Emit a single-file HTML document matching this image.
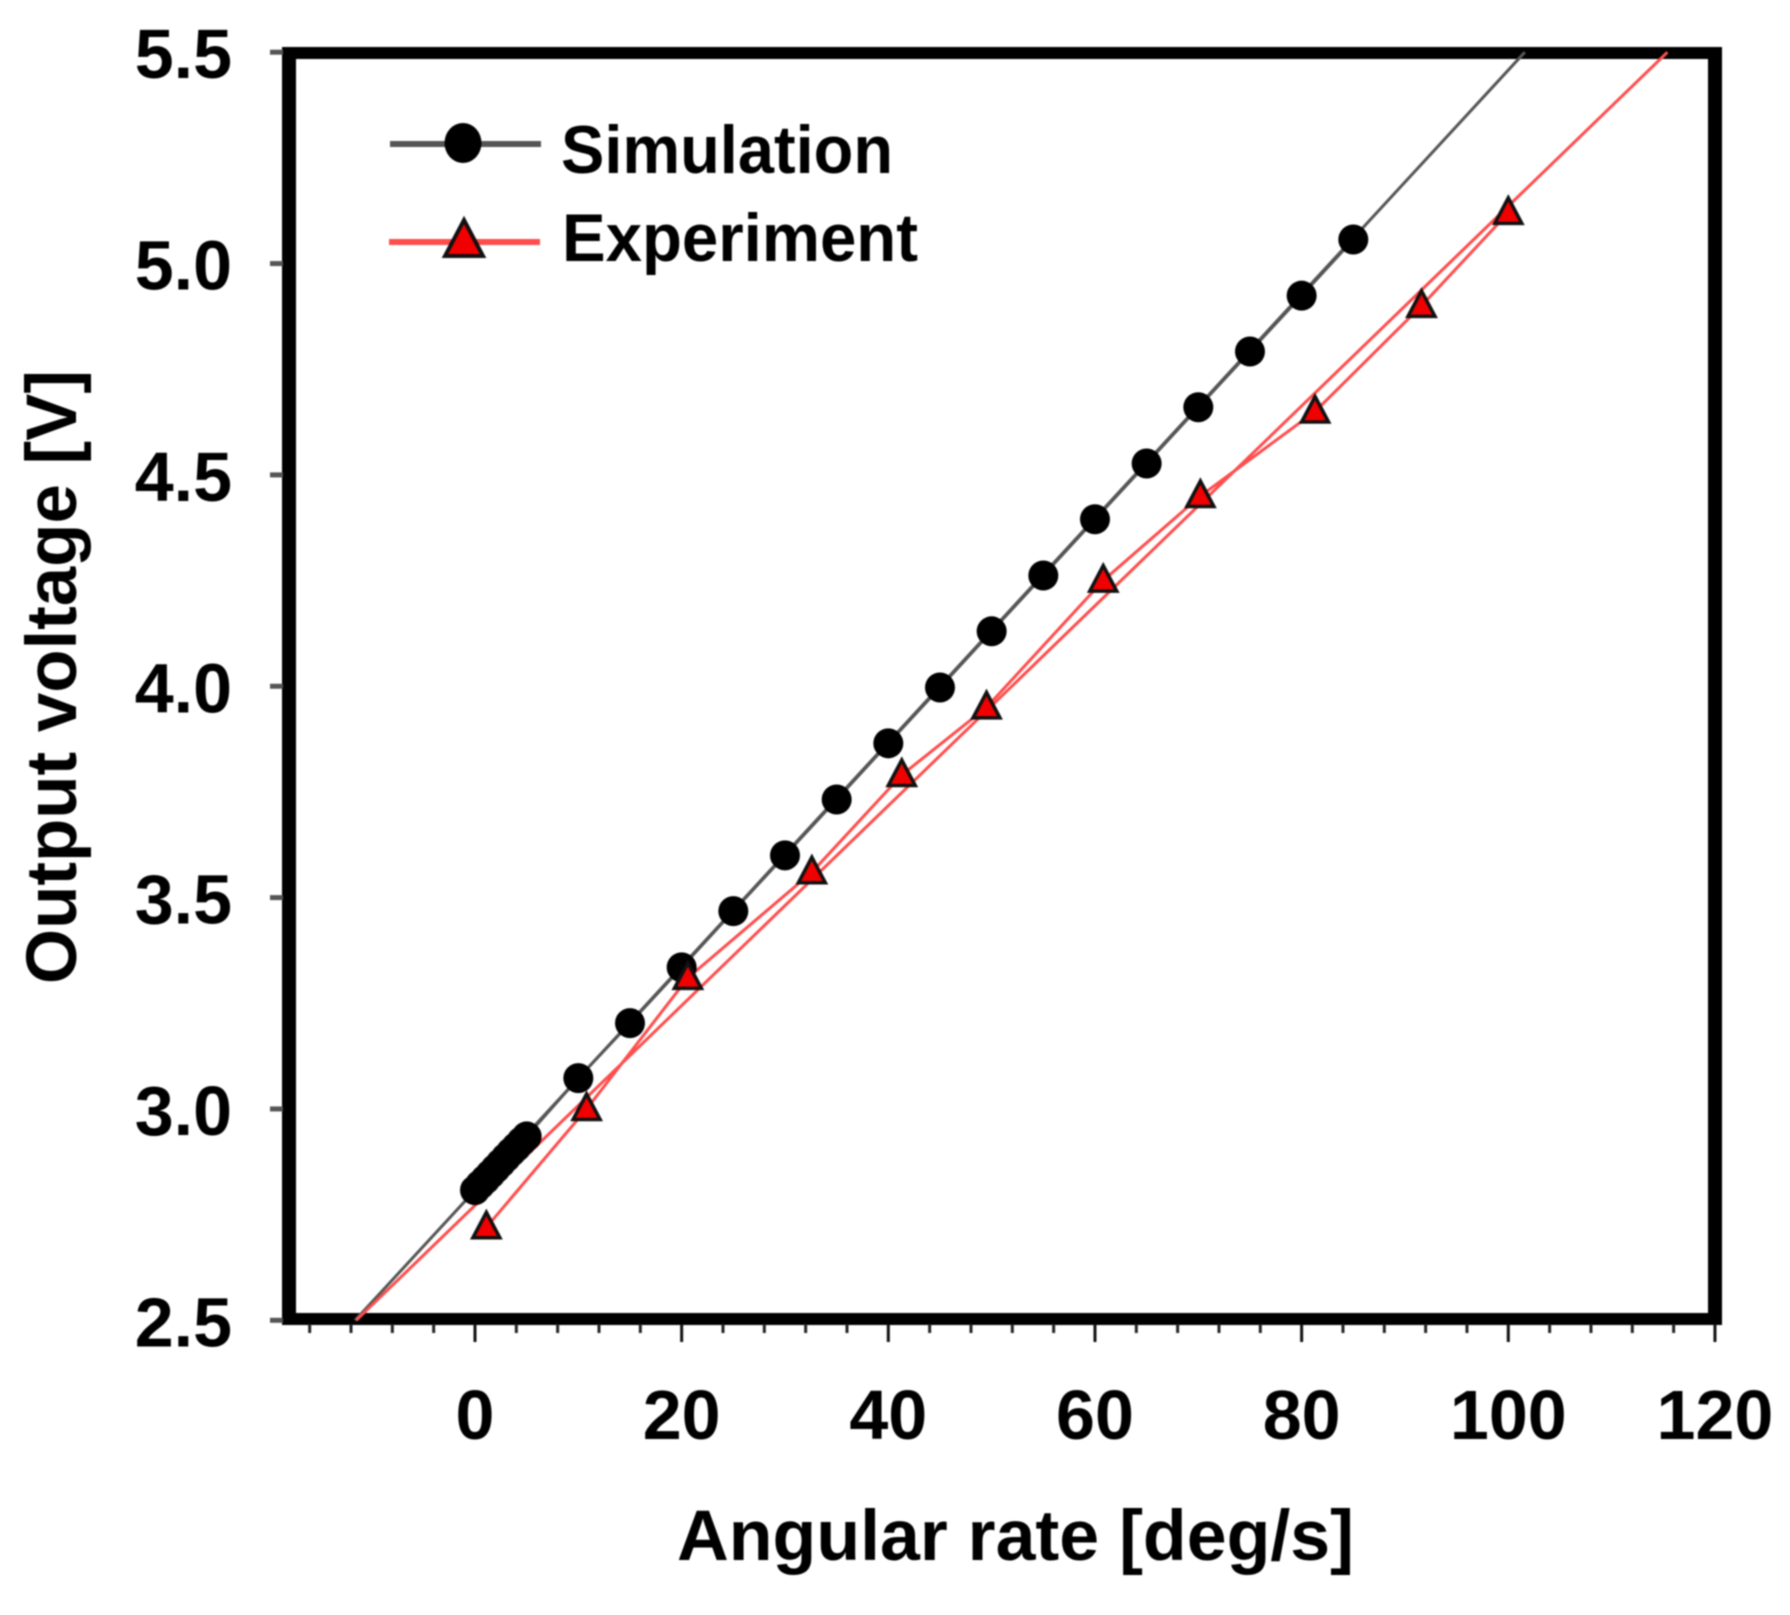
<!DOCTYPE html>
<html lang="en">
<head>
<meta charset="utf-8">
<title>Output voltage vs angular rate</title>
<style>
  html, body { margin: 0; padding: 0; background: #fff; }
  #chart { display: block; width: 1790px; height: 1615px; filter: blur(0.7px); }
  text { font-family: "Liberation Sans", sans-serif; font-weight: bold; fill: #000; }
</style>
</head>
<body>
<svg id="chart" xmlns="http://www.w3.org/2000/svg" width="1790" height="1615" viewBox="0 0 1790 1615">
  <rect x="0" y="0" width="1790" height="1615" fill="#fff"/>
  <g id="frame">
    <rect x="282" y="47" width="1440" height="12" fill="#000"/>
    <rect x="282" y="1313" width="1440" height="12" fill="#000"/>
    <rect x="282" y="47" width="14" height="1278" fill="#000"/>
    <rect x="1708" y="47" width="14" height="1278" fill="#000"/>
  </g>
  <g id="lines"></g>
  <g id="markers"></g>
  <g id="x-axis"></g>
  <g id="y-axis"></g>
  <text x="677" y="1560" font-size="71" textLength="677" lengthAdjust="spacingAndGlyphs">Angular rate [deg/s]</text>
  <text transform="translate(76 984) rotate(-90)" x="0" y="0" font-size="71" textLength="614" lengthAdjust="spacingAndGlyphs">Output voltage [V]</text>
  <g>
    <g>
      <line x1="390" y1="144" x2="541" y2="144" stroke="#555" stroke-width="6"/>
      <ellipse cx="463" cy="143" rx="18.5" ry="20" fill="#000"/>
      <text x="561" y="173" font-size="68" textLength="332" lengthAdjust="spacingAndGlyphs">Simulation</text>
    </g>
    <g>
      <line x1="389" y1="242" x2="540" y2="242" stroke="#ff4d4d" stroke-width="6"/>
      <polygon points="464,220 445,256 483,256" fill="#f00000" stroke="#111" stroke-width="4" stroke-linejoin="miter"/>
      <text x="562" y="261" font-size="68" textLength="356" lengthAdjust="spacingAndGlyphs">Experiment</text>
    </g>
  </g>
</svg>
<script>
const simulationRates = [0, 0.5, 1, 1.5, 2, 2.5, 3, 3.5, 4, 4.5, 5, 10, 15, 20, 25, 30, 35, 40, 45, 50, 55, 60, 65, 70, 75, 80, 85];
const simulationVolts = [2.808, 2.821, 2.833, 2.846, 2.859, 2.872, 2.885, 2.898, 2.91, 2.923, 2.935, 3.073, 3.203, 3.335, 3.468, 3.6, 3.732, 3.865, 3.997, 4.13, 4.262, 4.395, 4.527, 4.66, 4.792, 4.924, 5.057];
const experimentRates = [1.1, 10.8, 20.6, 32.6, 41.3, 49.5, 60.8, 70.2, 81.3, 91.6, 100];
const experimentVolts = [2.72, 3.0, 3.31, 3.56, 3.79, 3.95, 4.25, 4.45, 4.65, 4.9, 5.12];
const simulationFitRates = [-11.6, 101.6];
const simulationFitVolts = [2.5, 5.5];
const experimentFitRates = [-11.5, 115.4];
const experimentFitVolts = [2.5, 5.5];
const xTickValues = [0, 20, 40, 60, 80, 100, 120];
const xMinorTickValues = [-16, -12, -8, -4, 4, 8, 12, 16, 24, 28, 32, 36, 44, 48, 52, 56, 64, 68, 72, 76, 84, 88, 92, 96, 104, 108, 112, 116];
const yTickValues = [2.5, 3.0, 3.5, 4.0, 4.5, 5.0, 5.5];

const NS = 'http://www.w3.org/2000/svg';
function xScale(v) { return 475 + v * 10.333; }
function yScale(v) { return 1320.3 - (v - 2.5) * 422.7; }
function make(tag, attrs, parent) {
  const el = document.createElementNS(NS, tag);
  for (const k in attrs) el.setAttribute(k, attrs[k]);
  parent.appendChild(el);
  return el;
}
function pointsOf(xs, ys) {
  return xs.map(function (x, i) { return xScale(x).toFixed(1) + ',' + yScale(ys[i]).toFixed(1); }).join(' ');
}

const linesG = document.getElementById('lines');
const markersG = document.getElementById('markers');
const xAxisG = document.getElementById('x-axis');
const yAxisG = document.getElementById('y-axis');

const simFit = make('polyline', { points: pointsOf(simulationFitRates, simulationFitVolts), fill: 'none', stroke: '#555', 'stroke-width': 3 }, linesG);



const simLine = make('polyline', { points: pointsOf(simulationRates, simulationVolts), fill: 'none', stroke: '#555', 'stroke-width': 3 }, linesG);



const expFit = make('polyline', { points: pointsOf(experimentFitRates, experimentFitVolts), fill: 'none', stroke: '#ff4d4d', 'stroke-width': 3 }, linesG);



const expLine = make('polyline', { points: pointsOf(experimentRates, experimentVolts), fill: 'none', stroke: '#ff4d4d', 'stroke-width': 3 }, linesG);



simulationRates.forEach(function (rate, i) {
  const dot = make('circle', { cx: xScale(rate), cy: yScale(simulationVolts[i]), r: 15, fill: '#000' }, markersG);
  
  
});

experimentRates.forEach(function (rate, i) {
  const cx = xScale(rate);
  const cy = yScale(experimentVolts[i]);
  const pts = cx + ',' + (cy - 15) + ' ' + (cx - 13.5) + ',' + (cy + 10.5) + ' ' + (cx + 13.5) + ',' + (cy + 10.5);
  const tri = make('polygon', { points: pts, fill: '#f00000', stroke: '#111', 'stroke-width': 3.5 }, markersG);
  
  
});

xMinorTickValues.forEach(function (v) {
  const t = make('line', { x1: xScale(v), x2: xScale(v), y1: 1324, y2: 1333, stroke: '#222', 'stroke-width': 3 }, xAxisG);
  
  
});

xTickValues.forEach(function (v) {
  const t = make('line', { x1: xScale(v), x2: xScale(v), y1: 1324, y2: 1342, stroke: '#111', 'stroke-width': 3 }, xAxisG);
  
  
  const label = make('text', { x: xScale(v), y: 1439, 'font-size': 70, 'text-anchor': 'middle' }, xAxisG);
  label.textContent = String(v);
  
  
});

yTickValues.forEach(function (v) {
  const t = make('line', { x1: 270, x2: 283, y1: yScale(v), y2: yScale(v), stroke: '#555', 'stroke-width': 5 }, yAxisG);
  
  
  const label = make('text', { x: 232, y: yScale(v) + 26, 'font-size': 70, 'text-anchor': 'end' }, yAxisG);
  label.textContent = v.toFixed(1);
  
  
});
</script>
</body>
</html>
